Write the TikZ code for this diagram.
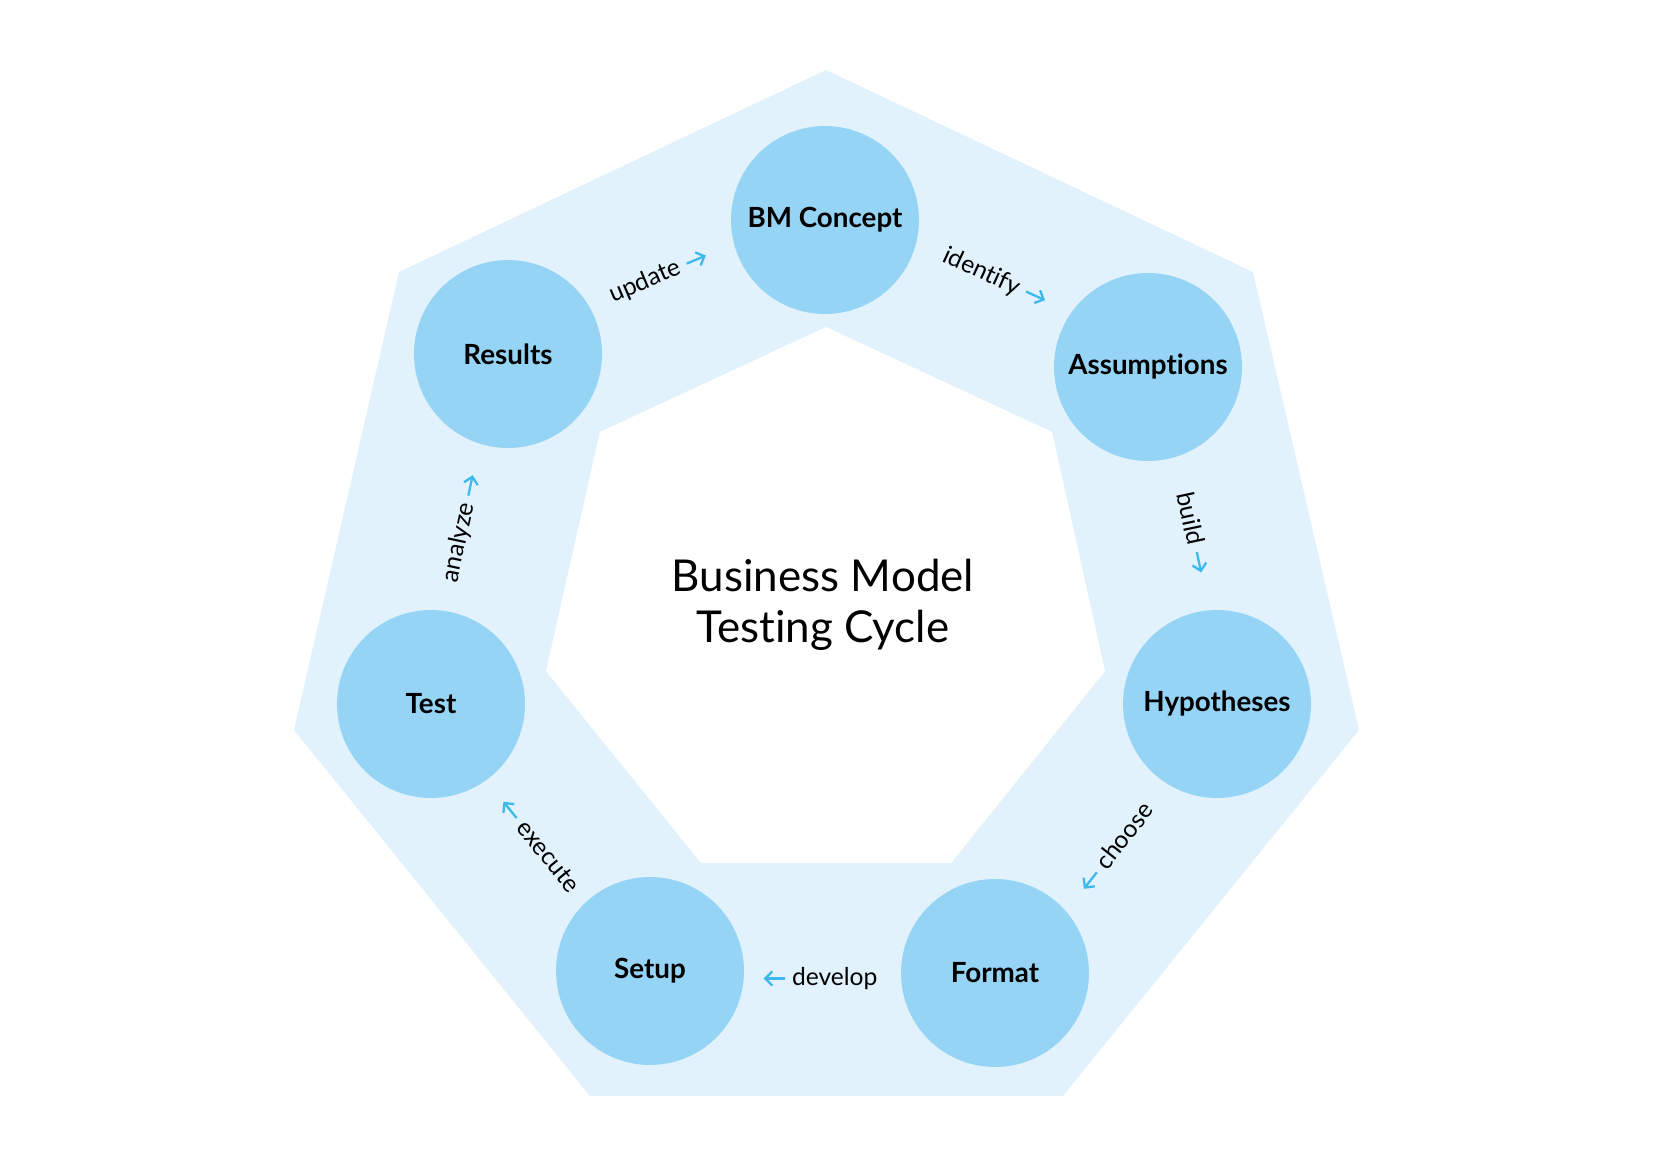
\documentclass[tikz,border=0pt]{standalone}
\usepackage{fontspec}
\setmainfont{Lato}[Ligatures=CommonOff]
\usetikzlibrary{arrows.meta}

\definecolor{RingBlue}{HTML}{E2F2FC}
\definecolor{CircleBlue}{HTML}{95D4F5}
\definecolor{ArrowBlue}{HTML}{3DB8EC}

\newcommand{\ArrR}{\tikz[baseline=-0.6ex]\draw[ArrowBlue,line width=1.3pt,-{Straight Barb[length=4pt,width=8pt]}] (0,0) -- (0.85em,0);}
\newcommand{\ArrL}{\tikz[baseline=-0.6ex]\draw[ArrowBlue,line width=1.3pt,{Straight Barb[length=4pt,width=8pt]}-] (0,0) -- (0.85em,0);}

\begin{document}
\begin{tikzpicture}[x=0.02cm,y=-0.02cm]
\useasboundingbox (0,0) rectangle (1654,1165);

\coordinate (O1) at (826, 70);
\coordinate (O2) at (1253, 272);
\coordinate (O3) at (1359, 730);
\coordinate (O4) at (1063, 1096);
\coordinate (O5) at (590, 1096);
\coordinate (O6) at (294, 730);
\coordinate (O7) at (399, 272);
\coordinate (I1) at (826, 327);
\coordinate (I2) at (1052, 432);
\coordinate (I3) at (1105, 671);
\coordinate (I4) at (951, 863);
\coordinate (I5) at (701, 863);
\coordinate (I6) at (546, 671);
\coordinate (I7) at (600, 432);


\fill[RingBlue] (O1) -- (O2) -- (O3) -- (O4) -- (O5) -- (O6) -- (O7) -- cycle;
\fill[white] (I1) -- (I2) -- (I3) -- (I4) -- (I5) -- (I6) -- (I7) -- cycle;


\tikzset{VertexStyle/.style = {
 shape = circle,
 fill = CircleBlue,
 text = black,
 inner sep = 0pt,
 minimum size = 3.76cm,
 font = \fontsize{15.8}{19}\selectfont\bfseries} }

\node[VertexStyle] (BM) at (825, 220) {BM Concept};
\node[VertexStyle] (Assum) at (1148, 367) {Assumptions};
\node[VertexStyle] (Hypo) at (1217, 704) {Hypotheses};
\node[VertexStyle] (Format) at (995, 973) {Format};
\node[VertexStyle] (Setup) at (650, 971) {Setup};
\node[VertexStyle] (Test) at (431, 704) {Test};
\node[VertexStyle] (Results) at (508, 354) {Results};


\tikzset{LabelStyle/.style = {
 text = black,
 inner sep = 1pt,
 font = \fontsize{14}{17}\selectfont} }

\node[LabelStyle, rotate=23] (Update) at (659, 276) {update \ArrR};
\node[LabelStyle, rotate=-24.5] (Identify) at (995, 278) {identify \ArrR};
\node[LabelStyle, rotate=-78] (Build) at (1194, 533) {build \ArrR};
\node[LabelStyle, rotate=52] (Choose) at (1115, 847) {\ArrL{} choose};
\node[LabelStyle] (Develop) at (820, 979) {\ArrL{} develop};
\node[LabelStyle, rotate=-51] (Execute) at (539, 845) {\ArrL{} execute};
\node[LabelStyle, rotate=78] (Analyze) at (462, 528) {analyze \ArrR};

\node[align=center, font=\fontsize{25}{29}\selectfont] (Title) at (823, 605) {Business Model\\Testing Cycle};

\end{tikzpicture}
\end{document}
